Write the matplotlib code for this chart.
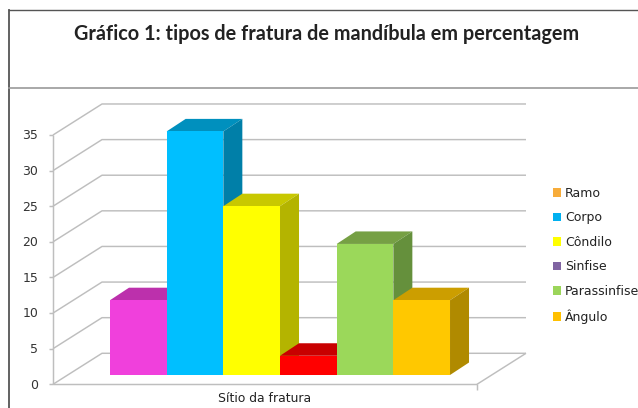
import matplotlib
matplotlib.use("Agg")
import matplotlib.pyplot as plt
from matplotlib.lines import Line2D
from matplotlib.patches import Patch, Polygon

# Data
bar_names = ["Sínfise", "Corpo", "Côndilo", "Ramo", "Parassínfise", "Ângulo"]
bar_values = [10.5, 34.2, 23.7, 2.7, 18.4, 10.5]
bar_front = ["#F040DC", "#00BFFF", "#FFFF00", "#FF0000", "#9BD85A", "#FFC800"]
bar_top = ["#BC30AC", "#0090BE", "#C8C800", "#C80000", "#76A044", "#CC9E00"]
bar_side = ["#A82C9C", "#007FA8", "#B4B400", "#A80000", "#65903C", "#B08A00"]
legend_names = ["Ramo", "Corpo", "Côndilo", "Sinfise", "Parassinfise", "Ângulo"]
legend_colors = ["#F7AC3A", "#00B0F0", "#FFFF00", "#8064A2", "#9BD55A", "#FFC000"]
y_ticks = [0, 5, 10, 15, 20, 25, 30, 35]
title = "Gráfico 1: tipos de fratura de mandíbula em percentagem"
x_label = "Sítio da fratura"

W, H = 638, 408
fig = plt.figure(figsize=(W / 100, H / 100), dpi=100, facecolor="white")

# Axes span: x in bar widths (0 = left edge of first bar), y in percentage units
left_px, right_px = 53.0, 477.0
bottom_px, top_px = 384.3, 135.0
unit_x = 56.67
x_min = (left_px - 110.0) / unit_x
x_max = (right_px - 110.0) / unit_x
ax = fig.add_axes([left_px / W, 1 - bottom_px / H,
                   (right_px - left_px) / W, (bottom_px - top_px) / H])
ax.set_xlim(x_min, x_max)
ax.set_ylim(0, 35)
ax.axis("off")

# Oblique projection offsets for the full floor depth
depth_dx = 49.0 / unit_x
depth_dy = 31.0 / 7.12
grid = "#BEBEBE"


def seg(xs, ys, **kw):
    ax.add_line(Line2D(xs, ys, color=grid, lw=1.05, clip_on=False,
                       solid_capstyle="butt", **kw))


# Walls and floor
for v in y_ticks:
    seg([x_min, x_min + depth_dx, x_max + depth_dx],
        [v, v + depth_dy, v + depth_dy])
    seg([x_min - 0.07, x_min], [v, v])
    ax.text(x_min - 0.26, v - 0.12, str(v), ha="right", va="center",
            fontsize=9, color="#333333", clip_on=False)
seg([x_min, x_min], [0, 35])
seg([x_min, x_max], [0, 0])
seg([x_max, x_max + depth_dx], [0, depth_dy])
seg([x_max, x_max], [0, -0.8])

# Bars, painted left to right so each front hides its neighbour's side
bar_base = 9.3 / 7.12
bar_dx = 19.0 / unit_x
bar_dy = 12.5 / 7.12
for i, value in enumerate(bar_values):
    top = bar_base + value
    ax.add_patch(Polygon([(i, top), (i + bar_dx, top + bar_dy),
                          (i + 1 + bar_dx, top + bar_dy), (i + 1, top)],
                         fc=bar_top[i], ec="none", clip_on=False, zorder=3))
    ax.add_patch(Polygon([(i + 1, bar_base), (i + 1 + bar_dx, bar_base + bar_dy),
                          (i + 1 + bar_dx, top + bar_dy), (i + 1, top)],
                         fc=bar_side[i], ec="none", clip_on=False, zorder=3))
for i, value in enumerate(bar_values):
    ax.bar(i + 0.5, value, width=1, bottom=bar_base, color=bar_front[i],
           zorder=4, clip_on=False, label=bar_names[i])

ax.text((265 - 110) / unit_x, -2.0, x_label, ha="center", va="center",
        fontsize=8.9, color="#222222", clip_on=False)

# Legend
handles = [Patch(fc=c, ec="none") for c in legend_colors]
fig.legend(handles, legend_names, loc="center left",
           bbox_to_anchor=(553 / W, 1 - 255.5 / H), frameon=False,
           fontsize=9, labelcolor="#222222", handlelength=0.64,
           handleheight=0.64, handletextpad=0.32, labelspacing=0.92,
           borderpad=0, borderaxespad=0)

# Title and frame rules
fig.text(326.5 / W, 1 - 34 / H, title, ha="center", va="center",
         fontsize=14.3, fontweight="bold", family="Lato", color="#222222")
frame = "#555555"
fig.add_artist(Line2D([8.5 / W, 8.5 / W], [0, 1 - 9.5 / H], color=frame, lw=1.3))
fig.add_artist(Line2D([8.5 / W, 1], [1 - 9.5 / H, 1 - 9.5 / H], color=frame, lw=1.0))
fig.add_artist(Line2D([8.5 / W, 1], [1 - 87.5 / H, 1 - 87.5 / H], color="#999999", lw=1.2))

fig.savefig("out.png", dpi=100, facecolor="white")
